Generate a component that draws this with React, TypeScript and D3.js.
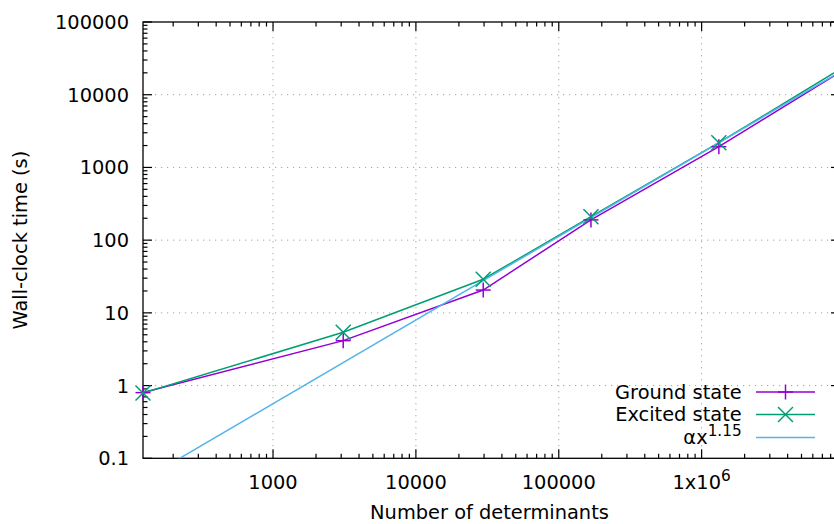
import React from 'react';
import * as d3 from 'd3';

const W = 834;
const H = 524;

// Data
const determinants = [123, 3100, 29600, 168000, 1320000, 10500000];
const groundTimes = [0.8, 4.15, 20.6, 190, 1930, 23700];
const excitedTimes = [0.79, 5.4, 29.0, 210, 2190, 25900];
const fitAlpha = 2.0e-4;
const fitExponent = 1.15;

const xMajorTicks = [1000, 10000, 100000, 1000000];
const xTickLabels = ['1000', '10000', '100000', '1x10^6'];
const yMajorTicks = [0.1, 1, 10, 100, 1000, 10000, 100000];
const yTickLabels = ['0.1', '1', '10', '100', '1000', '10000', '100000'];

const legendLabels = ['Ground state', 'Excited state', 'αx^1.15'];
const seriesColors = ['#9400d3', '#009e73', '#56b4e9'];

const xTitle = 'Number of determinants';
const yTitle = 'Wall-clock time (s)';

const PL = 143, PR = 840, PT = 22, PB = 458.3;
const FONT = 'DejaVu Sans, sans-serif';
const FS = 19.4;

function SupText({ s, x, y, anchor }: { s: string; x: number; y: number; anchor: string }) {
  const parts = s.split('^');
  return (
    <text x={x} y={y} textAnchor={anchor} fontFamily={FONT} fontSize={FS} fill="#000">
      {parts[0]}
      {parts.length > 1 && (
        <tspan dy={-8} fontSize={15.3}>{parts[1]}</tspan>
      )}
    </text>
  );
}

export default function App() {
  const xDomain: [number, number] = [123, 9.3e6];
  const x = d3.scaleLog().domain(xDomain).range([PL, PR]);
  const y = d3.scaleLog().domain([0.1, 100000]).range([PB, PT]);

  const xMinor: number[] = [];
  for (let d = 100; d <= 1e7; d *= 10) {
    for (let k = 2; k <= 9; k++) {
      const v = d * k;
      if (v > xDomain[0] && v < xDomain[1]) xMinor.push(v);
    }
  }
  const yMinor: number[] = [];
  for (let d = 0.1; d < 100000; d *= 10) {
    for (let k = 2; k <= 9; k++) yMinor.push(d * k);
  }

  const line = d3
    .line<number>()
    .x((_, i) => x(determinants[i]))
    .y((v) => y(v));

  const fitXs = [xDomain[0], xDomain[1]];
  const fitLine = d3
    .line<number>()
    .x((v) => x(v))
    .y((v) => y(fitAlpha * Math.pow(v, fitExponent)));

  const inDomain = (v: number) => v >= xDomain[0] && v <= xDomain[1];
  const MS = 7.5;

  const legendY = [392, 414.5, 437.5];

  return (
    <svg
      width={W}
      height={H}
      style={{ position: 'absolute', left: 0, top: 0, background: '#fff' }}
    >
      <defs>
        <clipPath id="plotclip">
          <rect x={PL} y={PT} width={PR - PL} height={PB - PT} />
        </clipPath>
      </defs>
      <rect x={0} y={0} width={W} height={H} fill="#fff" />

      {/* grid */}
      <g stroke="#a0a0a0" strokeWidth={1} strokeDasharray="1.2,4.8">
        {xMajorTicks.map((t) => (
          <line key={'gx' + t} x1={x(t)} x2={x(t)} y1={PB} y2={PT} />
        ))}
        {yMajorTicks.slice(1, -1).map((t) => (
          <line key={'gy' + t} x1={PL} x2={PR} y1={y(t)} y2={y(t)} />
        ))}
      </g>

      {/* ticks */}
      <g stroke="#000" strokeWidth={1.2}>
        {xMajorTicks.map((t) => (
          <g key={'xt' + t}>
            <line x1={x(t)} x2={x(t)} y1={PB} y2={PB - 9} />
            <line x1={x(t)} x2={x(t)} y1={PT} y2={PT + 9} />
          </g>
        ))}
        {xMinor.map((t) => (
          <g key={'xm' + t}>
            <line x1={x(t)} x2={x(t)} y1={PB} y2={PB - 4.5} />
            <line x1={x(t)} x2={x(t)} y1={PT} y2={PT + 4.5} />
          </g>
        ))}
        {yMajorTicks.map((t) => (
          <g key={'yt' + t}>
            <line x1={PL} x2={PL + 9} y1={y(t)} y2={y(t)} />
            <line x1={PR} x2={PR - 9} y1={y(t)} y2={y(t)} />
          </g>
        ))}
        {yMinor.map((t) => (
          <g key={'ym' + t}>
            <line x1={PL} x2={PL + 4.5} y1={y(t)} y2={y(t)} />
            <line x1={PR} x2={PR - 4.5} y1={y(t)} y2={y(t)} />
          </g>
        ))}
      </g>

      {/* border */}
      <rect x={PL} y={PT} width={PR - PL} height={PB - PT} fill="none" stroke="#000" strokeWidth={1.3} />

      {/* tick labels */}
      {yMajorTicks.map((t, i) => (
        <text
          key={'yl' + t}
          x={129}
          y={y(t) + 7}
          textAnchor="end"
          fontFamily={FONT}
          fontSize={FS}
          fill="#000"
        >
          {yTickLabels[i]}
        </text>
      ))}
      {xMajorTicks.map((t, i) => (
        <SupText key={'xl' + t} s={xTickLabels[i]} x={x(t)} y={489.3} anchor="middle" />
      ))}

      {/* axis titles */}
      <text
        x={(PL + PR) / 2 - 2}
        y={519}
        textAnchor="middle"
        fontFamily={FONT}
        fontSize={FS}
        fill="#000"
      >
        {xTitle}
      </text>
      <text
        transform={`translate(27,${(PT + PB) / 2}) rotate(-90)`}
        textAnchor="middle"
        fontFamily={FONT}
        fontSize={FS}
        fill="#000"
      >
        {yTitle}
      </text>

      {/* data lines */}
      <g clipPath="url(#plotclip)" fill="none" strokeWidth={1.5}>
        <path d={line(groundTimes) || ''} stroke={seriesColors[0]} />
        <path d={line(excitedTimes) || ''} stroke={seriesColors[1]} />
        <path d={fitLine(fitXs) || ''} stroke={seriesColors[2]} />
      </g>

      {/* markers */}
      <g strokeWidth={1.5}>
        {determinants.map((d, i) =>
          inDomain(d) ? (
            <g key={'pg' + i} stroke={seriesColors[0]}>
              <line x1={x(d) - MS} x2={x(d) + MS} y1={y(groundTimes[i])} y2={y(groundTimes[i])} />
              <line x1={x(d)} x2={x(d)} y1={y(groundTimes[i]) - MS} y2={y(groundTimes[i]) + MS} />
            </g>
          ) : null
        )}
        {determinants.map((d, i) =>
          inDomain(d) ? (
            <g key={'pe' + i} stroke={seriesColors[1]}>
              <line x1={x(d) - MS} x2={x(d) + MS} y1={y(excitedTimes[i]) - MS} y2={y(excitedTimes[i]) + MS} />
              <line x1={x(d) - MS} x2={x(d) + MS} y1={y(excitedTimes[i]) + MS} y2={y(excitedTimes[i]) - MS} />
            </g>
          ) : null
        )}
      </g>

      {/* legend */}
      {legendLabels.map((lab, i) => (
        <g key={'lg' + i}>
          <SupText s={lab} x={741.7} y={legendY[i] + 6.8} anchor="end" />
          <line x1={756} x2={815} y1={legendY[i]} y2={legendY[i]} stroke={seriesColors[i]} strokeWidth={1.5} />
          {i === 0 && (
            <g stroke={seriesColors[0]} strokeWidth={1.5}>
              <line x1={785.5 - MS} x2={785.5 + MS} y1={legendY[i]} y2={legendY[i]} />
              <line x1={785.5} x2={785.5} y1={legendY[i] - MS} y2={legendY[i] + MS} />
            </g>
          )}
          {i === 1 && (
            <g stroke={seriesColors[1]} strokeWidth={1.5}>
              <line x1={785.5 - MS} x2={785.5 + MS} y1={legendY[i] - MS} y2={legendY[i] + MS} />
              <line x1={785.5 - MS} x2={785.5 + MS} y1={legendY[i] + MS} y2={legendY[i] - MS} />
            </g>
          )}
        </g>
      ))}
    </svg>
  );
}
